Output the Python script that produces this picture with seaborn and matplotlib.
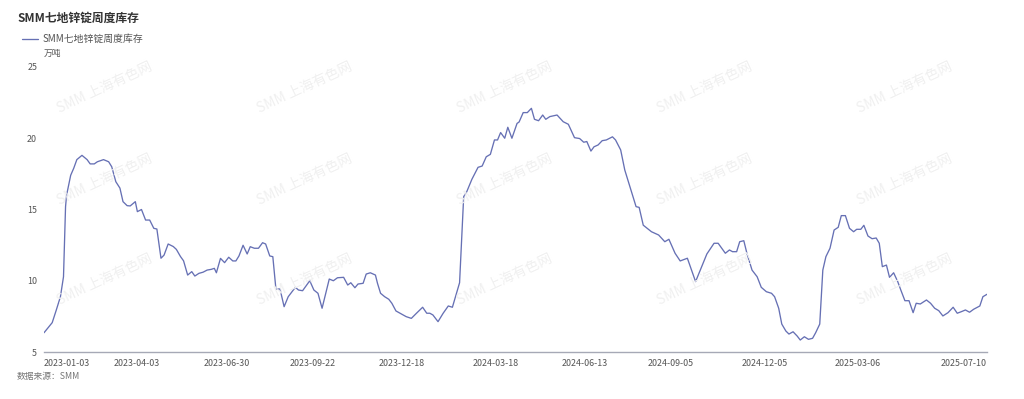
import numpy as np
import pandas as pd
import matplotlib
matplotlib.use("Agg")
import matplotlib.pyplot as plt
import seaborn as sns

# SMM seven-region zinc ingot inventory (10k t)
start_date = "2023-01-03"
day_offsets = [
    0, 8, 12, 16, 19, 21, 22, 26, 29, 32, 37, 42, 45, 49, 52, 58, 63, 66, 70, 74,
    77, 81, 84, 89, 91, 95, 99, 103, 107, 110, 114, 117, 121, 126, 129, 133, 136, 140, 144, 147,
    151, 155, 159, 163, 166, 168, 172, 176, 180, 184, 187, 190, 194, 198, 201, 205, 209, 213, 216, 220,
    223, 226, 230, 234, 238, 245, 248, 252, 256, 259, 263, 267, 271, 278, 282, 286, 292, 296, 299, 303,
    306, 311, 314, 318, 323, 325, 328, 332, 336, 339, 343, 347, 353, 358, 363, 369, 373, 376, 379, 384,
    389, 394, 398, 402, 405, 409, 412, 417, 423, 427, 431, 435, 439, 442, 445, 449, 452, 456, 461, 463,
    467, 471, 475, 478, 482, 486, 489, 493, 500, 506, 511, 517, 522, 526, 529, 533, 536, 540, 544, 548,
    554, 557, 562, 566, 574, 577, 580, 584, 592, 599, 605, 609, 615, 620, 627, 635, 641, 646, 653, 657,
    664, 668, 671, 675, 678, 682, 685, 690, 695, 699, 704, 709, 712, 716, 719, 723, 726, 730, 734, 737,
    741, 745, 749, 752, 756, 759, 762, 766, 770, 774, 777, 781, 785, 789, 792, 796, 799, 803, 807, 811,
    814, 817, 821, 824, 828, 832, 835, 839, 843, 847, 850, 854, 860, 864, 868, 872, 876, 881, 886, 890,
    894, 898, 902, 906, 912, 915, 919,
]
inventory = [
    6.35, 7.06, 7.95, 8.88, 10.28, 15.2, 16.0, 17.4, 17.9, 18.5, 18.8, 18.5, 18.2, 18.2, 18.35, 18.5, 18.35, 18.0, 16.95, 16.5,
    15.55, 15.27, 15.25, 15.55, 14.85, 15.0, 14.26, 14.26, 13.68, 13.63, 11.58, 11.8, 12.58, 12.4, 12.2, 11.7, 11.4, 10.4, 10.64, 10.33,
    10.52, 10.6, 10.75, 10.8, 10.87, 10.56, 11.57, 11.27, 11.65, 11.39, 11.39, 11.74, 12.49, 11.88, 12.39, 12.28, 12.28, 12.67, 12.58, 11.74,
    11.69, 9.42, 9.42, 8.18, 8.88, 9.54, 9.35, 9.30, 9.70, 10.0, 9.35, 9.12, 8.07, 10.12, 10.0, 10.21, 10.24, 9.70, 9.86, 9.51,
    9.77, 9.82, 10.47, 10.56, 10.40, 9.82, 9.12, 8.88, 8.70, 8.42, 7.88, 7.72, 7.48, 7.36, 7.72, 8.14, 7.72, 7.72, 7.60, 7.13,
    7.72, 8.23, 8.14, 9.12, 9.86, 15.9, 16.25, 17.12, 17.96, 18.05, 18.7, 18.87, 19.88, 19.88, 20.4, 20.0, 20.77, 20.0, 21.04, 21.14,
    21.8, 21.8, 22.1, 21.33, 21.23, 21.63, 21.33, 21.52, 21.63, 21.16, 20.98, 20.04, 19.98, 19.72, 19.77, 19.1, 19.4, 19.53, 19.83, 19.88,
    20.1, 19.88, 19.18, 17.77, 15.9, 15.2, 15.15, 13.9, 13.44, 13.21, 12.74, 12.91, 11.93, 11.39, 11.58, 9.94, 10.99, 11.88, 12.63, 12.63,
    11.93, 12.16, 12.04, 12.04, 12.74, 12.81, 11.93, 10.75, 10.28, 9.54, 9.23, 9.12, 8.88, 8.07, 6.96, 6.47, 6.26, 6.42, 6.12, 5.84,
    6.07, 5.89, 5.96, 6.35, 6.96, 10.75, 11.69, 12.28, 13.56, 13.75, 14.57, 14.57, 13.68, 13.44, 13.61, 13.61, 13.89, 13.14, 12.95, 13.0,
    12.63, 10.99, 11.1, 10.24, 10.56, 9.94, 9.35, 8.6, 8.6, 7.76, 8.42, 8.37, 8.65, 8.42, 8.07, 7.9, 7.53, 7.76, 8.14, 7.72,
    7.83, 7.95, 7.79, 8.0, 8.23, 8.88, 9.05,
]
tick_dates = ["2023-01-03", "2023-04-03", "2023-06-30", "2023-09-22", "2023-12-18", "2024-03-18",
              "2024-06-13", "2024-09-05", "2024-12-05", "2025-03-06", "2025-07-10"]
y_ticks = [5, 10, 15, 20, 25]

series_name = "SMM七地锌锭周度库存"
line_color = "#6670b4"

df = pd.DataFrame({
    "date": pd.Timestamp(start_date) + pd.to_timedelta(day_offsets, unit="D"),
    "value": inventory,
})

sns.set_theme(style="white")
plt.rcParams["font.family"] = ["Noto Sans CJK SC", "DejaVu Sans"]

fig = plt.figure(figsize=(10.24, 3.99), dpi=100)
ax = fig.add_axes([44 / 1024, 1 - 352 / 399, (987 - 44) / 1024, (352 - 67) / 399])

sns.lineplot(data=df, x="date", y="value", ax=ax, color=line_color, linewidth=0.95, label=series_name)

ax.set_xlim(df["date"].iloc[0], df["date"].iloc[-1])
ax.set_ylim(5, 25)
ax.set_yticks(y_ticks)
ax.set_yticklabels([str(t) for t in y_ticks])
ax.set_xticks(pd.to_datetime(tick_dates))
ax.set_xticklabels(tick_dates)
xlabels = ax.get_xticklabels()
xlabels[0].set_ha("left")
xlabels[-1].set_ha("right")
ax.tick_params(axis="x", length=0, pad=5, labelsize=6.4, labelcolor="#555555")
ax.tick_params(axis="y", length=0, pad=5, labelsize=6.4, labelcolor="#555555")
ax.set_xlabel("")
ax.set_ylabel("")
for side in ["top", "right", "left"]:
    ax.spines[side].set_visible(False)
ax.spines["bottom"].set_color("#a6a9b6")
ax.spines["bottom"].set_linewidth(1.0)
ax.grid(False)

ax.legend(loc="center left", bbox_to_anchor=(13 / 1024, 1 - 39 / 399), bbox_transform=fig.transFigure,
          frameon=False, fontsize=7.1, handlelength=1.6, handletextpad=0.5, labelcolor="#555555")

# title, unit, source
fig.text(17 / 1024, 1 - 18 / 399, series_name, fontsize=8.5, fontweight="bold", color="#333333", va="center")
fig.text(44 / 1024, 1 - 53 / 399, "万吨", fontsize=6.3, color="#555555", va="center")
fig.text(17 / 1024, 1 - 376 / 399, "数据来源：SMM", fontsize=6.3, color="#777777", va="center", style="italic")

# watermarks
for wy in [88, 180, 280]:
    for wx in [105, 305, 505, 705, 905]:
        fig.text(wx / 1024, 1 - wy / 399, "SMM 上海有色网", fontsize=10, color="#f0f0f0",
                 rotation=25, ha="center", va="center", zorder=0)

fig.savefig("out.png", dpi=100)
